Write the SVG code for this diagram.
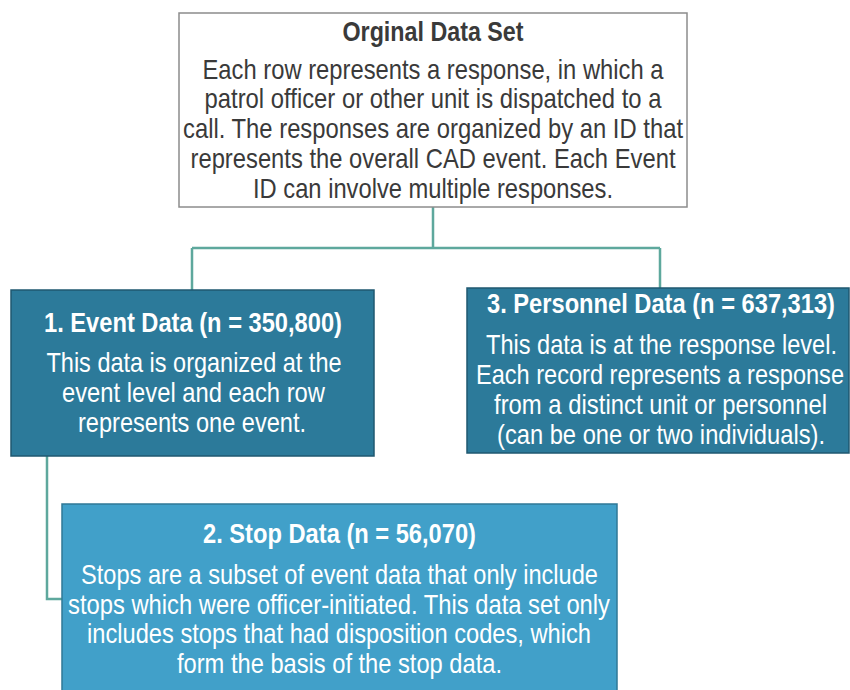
<svg xmlns="http://www.w3.org/2000/svg" width="850" height="690" viewBox="0 0 850 690">
<style>
text{font-family:"Liberation Sans Narrow","Liberation Sans",Arial,sans-serif;text-anchor:middle}
.t{font-size:28px;font-weight:bold}
.b{font-size:28px}
.dk{fill:#3a3a3a}
.wt{fill:#ffffff}
.conn{fill:none;stroke:#5ea89d;stroke-width:2.5}
</style>
<rect width="850" height="690" fill="#ffffff"/>
<g id="connectors">
<path class="conn" d="M433 207 V248 M192 248 H660 M192 248 V290 M660 248 V288"/>
<path class="conn" d="M47 456 V599 H62"/>
</g>
<g id="original">
<rect x="179" y="13" width="508" height="194" fill="#ffffff" stroke="#8c8c8c" stroke-width="1.5"/>
<text class="t dk" x="433" y="41" textLength="181" lengthAdjust="spacingAndGlyphs">Orginal Data Set</text>
<text class="b dk" x="433" y="78.5" textLength="461" lengthAdjust="spacingAndGlyphs">Each row represents a response, in which a</text>
<text class="b dk" x="433" y="108" textLength="457" lengthAdjust="spacingAndGlyphs">patrol officer or other unit is dispatched to a</text>
<text class="b dk" x="433" y="138" textLength="500" lengthAdjust="spacingAndGlyphs">call. The responses are organized by an ID that</text>
<text class="b dk" x="433" y="168" textLength="485" lengthAdjust="spacingAndGlyphs">represents the overall CAD event. Each Event</text>
<text class="b dk" x="433" y="198" textLength="360" lengthAdjust="spacingAndGlyphs">ID can involve multiple responses.</text>
</g>
<g id="event">
<rect x="11" y="290" width="363" height="166" fill="#2c7a9a" stroke="#1f5870" stroke-width="1.5"/>
<text class="t wt" x="193" y="332" textLength="298" lengthAdjust="spacingAndGlyphs">1. Event Data (n = 350,800)</text>
<text class="b wt" x="194" y="372" textLength="295" lengthAdjust="spacingAndGlyphs">This data is organized at the</text>
<text class="b wt" x="193.5" y="402" textLength="263" lengthAdjust="spacingAndGlyphs">event level and each row</text>
<text class="b wt" x="192" y="432" textLength="228" lengthAdjust="spacingAndGlyphs">represents one event.</text>
</g>
<g id="personnel">
<rect x="467" y="288" width="382" height="165" fill="#2c7a9a" stroke="#1f5870" stroke-width="1.5"/>
<text class="t wt" x="661" y="313" textLength="348" lengthAdjust="spacingAndGlyphs">3. Personnel Data (n = 637,313)</text>
<text class="b wt" x="661.5" y="354" textLength="351" lengthAdjust="spacingAndGlyphs">This data is at the response level.</text>
<text class="b wt" x="660" y="384" textLength="368" lengthAdjust="spacingAndGlyphs">Each record represents a response</text>
<text class="b wt" x="660.5" y="414" textLength="333" lengthAdjust="spacingAndGlyphs">from a distinct unit or personnel</text>
<text class="b wt" x="661" y="444" textLength="328" lengthAdjust="spacingAndGlyphs">(can be one or two individuals).</text>
</g>
<g id="stop">
<rect x="62" y="504" width="555" height="190" fill="#41a0c9" stroke="#2f7896" stroke-width="1.5"/>
<text class="t wt" x="339.5" y="543" textLength="273" lengthAdjust="spacingAndGlyphs">2. Stop Data (n = 56,070)</text>
<text class="b wt" x="339.5" y="584" textLength="517" lengthAdjust="spacingAndGlyphs">Stops are a subset of event data that only include</text>
<text class="b wt" x="339" y="613.5" textLength="542" lengthAdjust="spacingAndGlyphs">stops which were officer-initiated. This data set only</text>
<text class="b wt" x="339" y="643" textLength="504" lengthAdjust="spacingAndGlyphs">includes stops that had disposition codes, which</text>
<text class="b wt" x="339.5" y="673" textLength="325" lengthAdjust="spacingAndGlyphs">form the basis of the stop data.</text>
</g>
</svg>
